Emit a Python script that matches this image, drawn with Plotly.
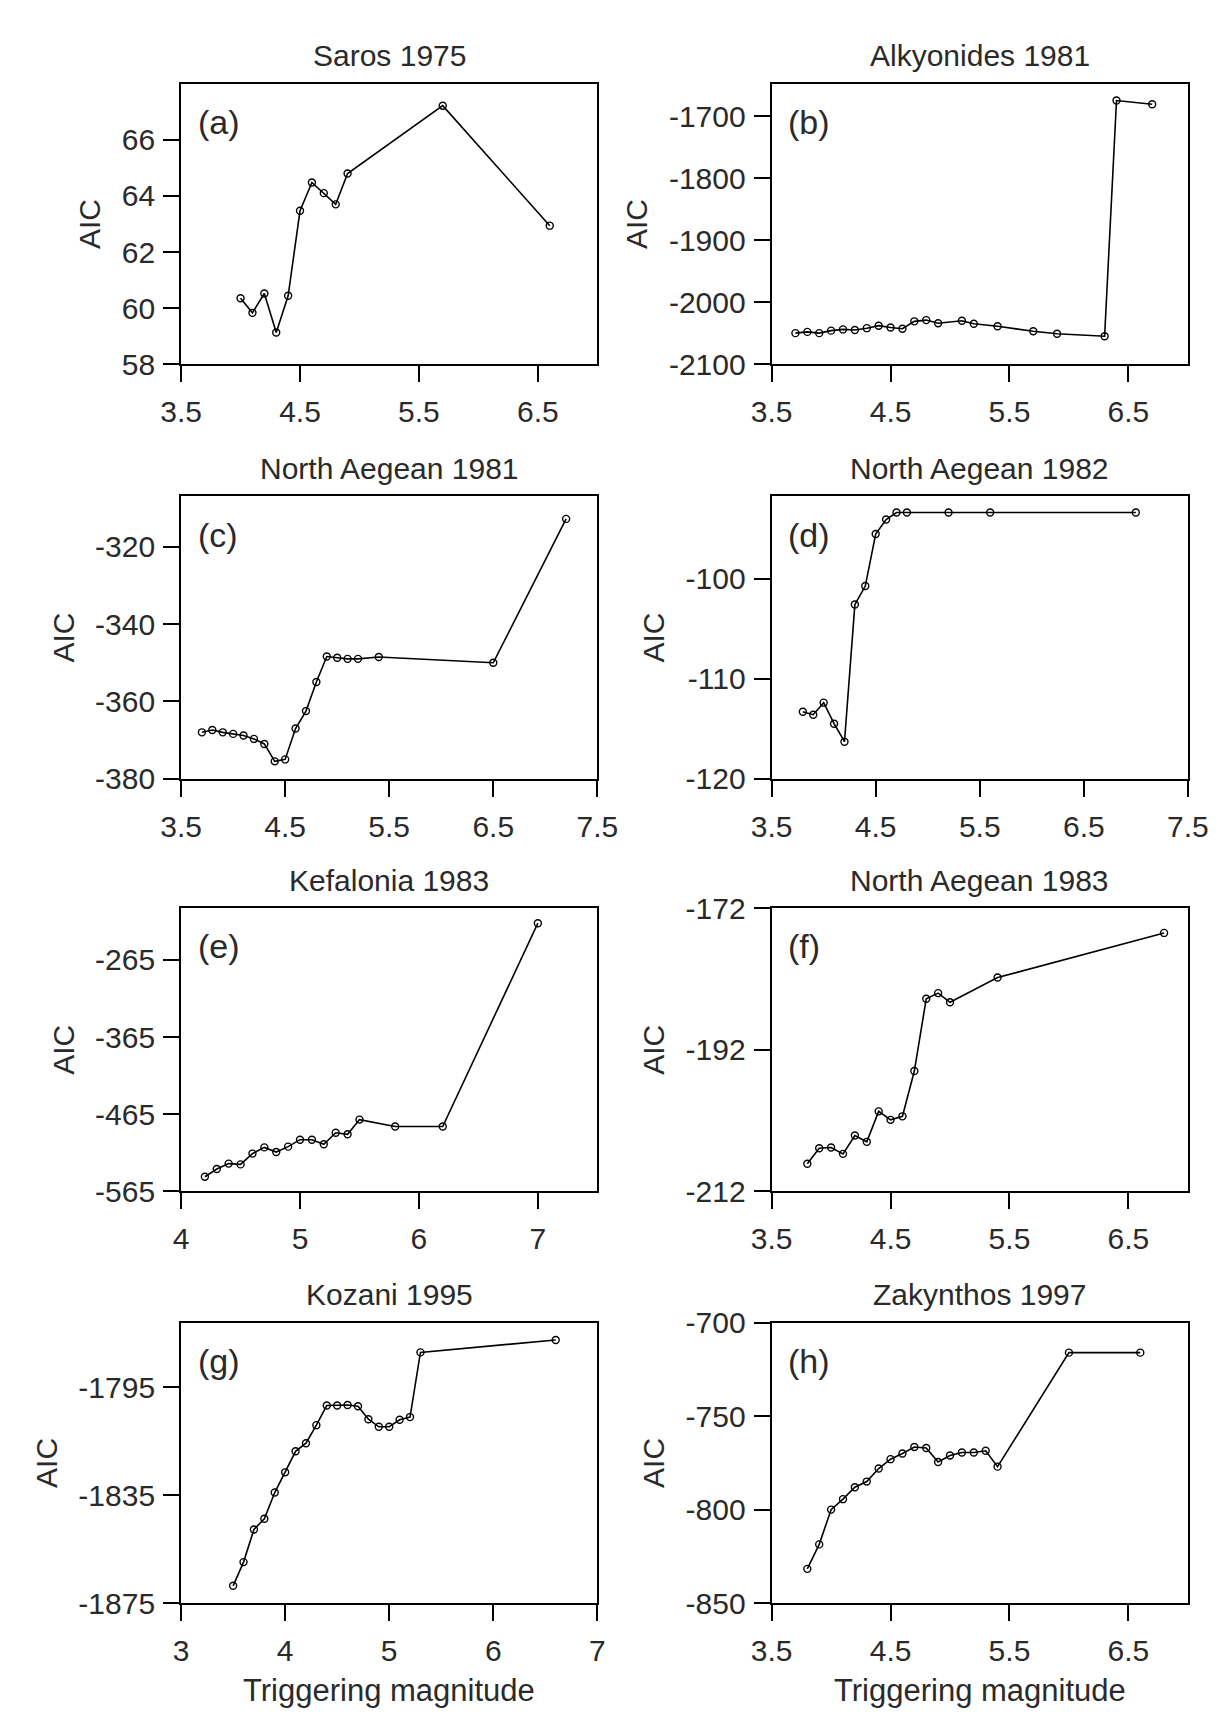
import plotly.graph_objects as go

# ---------------- data ----------------
titles = ["Saros 1975", "Alkyonides 1981", "North Aegean 1981", "North Aegean 1982",
          "Kefalonia 1983", "North Aegean 1983", "Kozani 1995", "Zakynthos 1997"]
labels = ["(a)", "(b)", "(c)", "(d)", "(e)", "(f)", "(g)", "(h)"]

a_x = [4.0, 4.1, 4.2, 4.3, 4.4, 4.5, 4.6, 4.7, 4.8, 4.9, 5.7, 6.6]
a_y = [60.35, 59.83, 60.52, 59.13, 60.44, 63.47, 64.48, 64.1, 63.7, 64.8, 67.22, 62.94]

b_x = [3.7, 3.8, 3.9, 4.0, 4.1, 4.2, 4.3, 4.4, 4.5, 4.6, 4.7, 4.8, 4.9, 5.1, 5.2, 5.4, 5.7, 5.9, 6.3, 6.4, 6.7]
b_y = [-2050, -2048, -2050, -2046, -2044, -2045, -2042, -2038, -2041, -2043, -2031, -2029, -2034,
       -2030, -2035, -2039, -2047, -2051, -2055, -1675, -1681]

c_x = [3.7, 3.8, 3.9, 4.0, 4.1, 4.2, 4.3, 4.4, 4.5, 4.6, 4.7, 4.8, 4.9, 5.0, 5.1, 5.2, 5.4, 6.5, 7.2]
c_y = [-368, -367.4, -368, -368.4, -368.8, -369.7, -371, -375.5, -375, -367, -362.5, -355,
       -348.4, -348.7, -349, -349, -348.5, -350, -312.8]

d_x = [3.8, 3.9, 4.0, 4.1, 4.2, 4.3, 4.4, 4.5, 4.6, 4.7, 4.8, 5.2, 5.6, 7.0]
d_y = [-113.3, -113.6, -112.4, -114.5, -116.3, -102.6, -100.75, -95.55, -94.1, -93.4, -93.4,
       -93.4, -93.4, -93.4]

e_x = [4.2, 4.3, 4.4, 4.5, 4.6, 4.7, 4.8, 4.9, 5.0, 5.1, 5.2, 5.3, 5.4, 5.5, 5.8, 6.2, 7.0]
e_y = [-546, -536, -529, -530, -516, -508, -514, -507, -498, -498, -504, -489, -491, -472,
       -481, -481, -217.5]

f_x = [3.8, 3.9, 4.0, 4.1, 4.2, 4.3, 4.4, 4.5, 4.6, 4.7, 4.8, 4.9, 5.0, 5.4, 6.8]
f_y = [-208.1, -205.9, -205.8, -206.7, -204.1, -205.0, -200.7, -201.9, -201.4, -195.0,
       -184.8, -184.0, -185.3, -181.8, -175.5]

g_x = [3.5, 3.6, 3.7, 3.8, 3.9, 4.0, 4.1, 4.2, 4.3, 4.4, 4.5, 4.6, 4.7, 4.8, 4.9, 5.0, 5.1, 5.2, 5.3, 6.6]
g_y = [-1868.6, -1859.8, -1847.7, -1843.7, -1834, -1826.5, -1818.7, -1815.7, -1809, -1801.7,
       -1801.7, -1801.5, -1802, -1806.8, -1809.6, -1809.6, -1807, -1806, -1782, -1777.4]

h_x = [3.8, 3.9, 4.0, 4.1, 4.2, 4.3, 4.4, 4.5, 4.6, 4.7, 4.8, 4.9, 5.0, 5.1, 5.2, 5.3, 5.4, 6.0, 6.6]
h_y = [-831.7, -818.6, -800, -794.4, -788, -785, -778, -773, -770, -766.5, -767, -774.5,
       -771, -769.4, -769.4, -768.5, -777, -716, -716]

xs = [a_x, b_x, c_x, d_x, e_x, f_x, g_x, h_x]
ys = [a_y, b_y, c_y, d_y, e_y, f_y, g_y, h_y]

x_ranges = [[3.5, 7.0], [3.5, 7.0], [3.5, 7.5], [3.5, 7.5], [4, 7.5], [3.5, 7.0], [3, 7], [3.5, 7.0]]
y_ranges = [[58, 68], [-2100, -1648], [-380, -307], [-120, -91.8], [-565, -198], [-212, -172],
            [-1875, -1771], [-850, -700]]
x_ticks = [[3.5, 4.5, 5.5, 6.5], [3.5, 4.5, 5.5, 6.5], [3.5, 4.5, 5.5, 6.5, 7.5],
           [3.5, 4.5, 5.5, 6.5, 7.5], [4, 5, 6, 7], [3.5, 4.5, 5.5, 6.5], [3, 4, 5, 6, 7],
           [3.5, 4.5, 5.5, 6.5]]
y_ticks = [[58, 60, 62, 64, 66], [-2100, -2000, -1900, -1800, -1700], [-380, -360, -340, -320],
           [-120, -110, -100], [-565, -465, -365, -265], [-212, -192, -172],
           [-1875, -1835, -1795], [-850, -800, -750, -700]]
y_label = "AIC"
x_label = "Triggering magnitude"

# ---------------- layout geometry ----------------
W, H = 1225, 1714
col_px = [(157.5, 588.5), (769, 1200)]
row_px = [(60, 346), (481, 769), (901, 1190), (1324, 1610)]

FONT = "Liberation Sans, Arial, sans-serif"
TXT = "#2a2a2a"


def fmt(v):
    return "%g" % v  # ASCII hyphen for negatives, as in the reference


fig = go.Figure()
layout = dict(
    width=W, height=H, margin=dict(l=0, r=0, t=0, b=0),
    paper_bgcolor="white", plot_bgcolor="white", showlegend=False,
    font=dict(family=FONT, color=TXT),
)
annotations = []

for i in range(8):
    r, c = divmod(i, 2)
    n = "" if i == 0 else str(i + 1)
    xa, ya = "x" + n, "y" + n
    fig.add_trace(go.Scatter(
        x=xs[i], y=ys[i], xaxis=xa, yaxis=ya, mode="lines+markers",
        line=dict(color="black", width=1.6),
        marker=dict(symbol="circle-open", size=7, color="black", line=dict(width=1.4)),
    ))
    x0, x1 = col_px[c]
    t, b = row_px[r]
    common = dict(showline=True, linecolor="black", linewidth=2, mirror=True,
                  ticks="outside", ticklen=16, tickwidth=2, tickcolor="black",
                  showgrid=False, zeroline=False,
                  tickfont=dict(family=FONT, size=30, color=TXT))
    layout["xaxis" + n] = dict(common, domain=[x0 / W, x1 / W], anchor=ya,
                               range=x_ranges[i], tickvals=x_ticks[i],
                               ticktext=[fmt(v) for v in x_ticks[i]],
                               ticklabelstandoff=4)
    layout["yaxis" + n] = dict(common, domain=[1 - b / H, 1 - t / H], anchor=xa,
                               range=y_ranges[i], tickvals=y_ticks[i],
                               ticktext=[fmt(v) for v in y_ticks[i]],
                               ticklabelstandoff=2,
                               title=dict(text=y_label, standoff=12,
                                          font=dict(family=FONT, size=30, color=TXT)))
    # panel title
    annotations.append(dict(text=titles[i], xref=xa + " domain", yref=ya + " domain",
                            x=0.5, y=1, yshift=28, xanchor="center", yanchor="middle",
                            showarrow=False, font=dict(size=30, color=TXT)))
    # panel letter
    annotations.append(dict(text=labels[i], xref=xa + " domain", yref=ya + " domain",
                            x=0.035, y=0.865, xanchor="left", yanchor="middle",
                            showarrow=False, font=dict(size=34, color=TXT)))
    if r == 3:
        annotations.append(dict(text=x_label, xref=xa + " domain", yref=ya + " domain",
                                x=0.5, y=0, yshift=-87, xanchor="center", yanchor="middle",
                                showarrow=False, font=dict(size=31, color=TXT)))

layout["annotations"] = annotations
fig.update_layout(**layout)
fig.write_html("out.html")
